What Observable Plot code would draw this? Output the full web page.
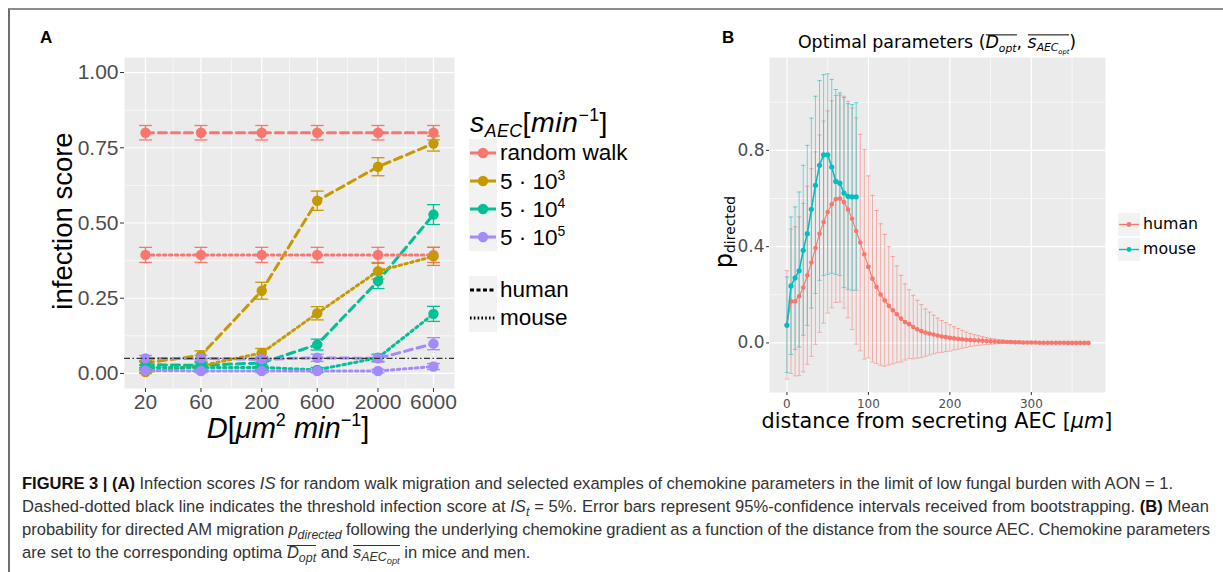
<!DOCTYPE html>
<html><head><meta charset="utf-8">
<script src="https://cdn.jsdelivr.net/npm/d3@7"></script>
<script src="https://cdn.jsdelivr.net/npm/@observablehq/plot@0.6"></script>
<style>
html,body{margin:0;padding:0;background:#fff;overflow:hidden;}
#fig{position:relative;width:1223px;height:572px;overflow:hidden;font-family:"Liberation Sans",Arial,sans-serif;color:#000;}
.abs{position:absolute;white-space:nowrap;line-height:1;}
.frame{position:absolute;left:8px;top:8px;width:1300px;height:700px;border-top:2px solid #8c8c8c;border-left:2px solid #6e6e6e;}
.sub{font-size:0.62em;vertical-align:-0.32em;}
.sup{font-size:0.62em;vertical-align:0.62em;}
.ol{position:relative;display:inline-block;line-height:1;}
.ol::before{content:"";position:absolute;left:0;right:0;top:0.02em;border-top:1px solid currentColor;}
.cap{position:absolute;left:22px;white-space:nowrap;color:#333;line-height:23px;font-family:"Liberation Sans",Arial,sans-serif;}
.cap sub{font-size:0.75em;vertical-align:-0.3em;line-height:0;}
</style></head><body><div id="fig"><div class="frame"></div></div>
<script>
// ---------------- Panel A data ----------------
const D_values = [20, 60, 200, 600, 2000, 6000];
const A_yTicks = [0, 0.25, 0.5, 0.75, 1];
const A_yMinor = [0.125, 0.375, 0.625, 0.875];
const A_xMinor = [34.6, 109.5, 346, 1095, 3464];
const seriesNames = ["random walk", "5·10³", "5·10⁴", "5·10⁵"];
const seriesColors = ["#F8766D", "#C49A00", "#00C094", "#A58AFF"];
const threshold = 0.05;

const rwHuman    = [0.800, 0.800, 0.800, 0.800, 0.800, 0.800];
const rwHumanErr = [0.024, 0.024, 0.024, 0.024, 0.024, 0.024];
const rwMouse    = [0.394, 0.394, 0.394, 0.394, 0.394, 0.394];
const rwMouseErr = [0.025, 0.025, 0.025, 0.025, 0.025, 0.025];
const s3Human    = [0.035, 0.060, 0.275, 0.574, 0.687, 0.764];
const s3HumanErr = [0.008, 0.015, 0.028, 0.032, 0.030, 0.025];
const s3Mouse    = [0.005, 0.025, 0.068, 0.200, 0.340, 0.389];
const s3MouseErr = [0.005, 0.010, 0.015, 0.022, 0.026, 0.030];
const s4Human    = [0.029, 0.027, 0.035, 0.096, 0.307, 0.528];
const s4HumanErr = [0.010, 0.010, 0.012, 0.018, 0.025, 0.033];
const s4Mouse    = [0.020, 0.020, 0.020, 0.012, 0.052, 0.198];
const s4MouseErr = [0.008, 0.008, 0.008, 0.008, 0.012, 0.025];
const s5Human    = [0.050, 0.050, 0.047, 0.052, 0.050, 0.099];
const s5HumanErr = [0.010, 0.010, 0.010, 0.012, 0.012, 0.020];
const s5Mouse    = [0.010, 0.008, 0.008, 0.008, 0.008, 0.023];
const s5MouseErr = [0.006, 0.006, 0.006, 0.006, 0.006, 0.010];

// ---------------- Panel B data ----------------
const B_xTicks = [0, 100, 200, 300];
const B_xMinor = [50, 150, 250, 350];
const B_yTicks = [0, 0.4, 0.8];
const B_yMinor = [0.2, 0.6, 1.0];
const humanDist = [0,5,10,15,20,25,30,35,40,45,50,55,60,65,70,75,80,85,90,95,100,105,110,115,120,125,130,135,140,145,150,155,160,165,170,175,180,185,190,195,200,205,210,215,220,225,230,235,240,245,250,255,260,265,270,275,280,285,290,295,300,305,310,315,320,325,330,335,340,345,350,355,360,365,370];
const humanMean = [0.075,0.173,0.173,0.194,0.230,0.281,0.334,0.394,0.454,0.502,0.544,0.576,0.598,0.600,0.585,0.554,0.516,0.465,0.417,0.368,0.316,0.267,0.232,0.201,0.177,0.154,0.136,0.119,0.101,0.087,0.078,0.066,0.057,0.049,0.043,0.039,0.035,0.031,0.027,0.024,0.021,0.019,0.017,0.015,0.013,0.012,0.011,0.010,0.009,0.008,0.007,0.006,0.005,0.005,0.004,0.004,0.003,0.003,0.002,0.002,0.002,0.002,0.001,0.001,0.001,0.001,0.001,0.001,0.001,0.000,0.000,0.000,0.000,0.000,0.000];
const humanErr  = [0.225,0.300,0.310,0.330,0.350,0.370,0.390,0.400,0.410,0.420,0.420,0.430,0.430,0.430,0.440,0.450,0.460,0.470,0.450,0.435,0.378,0.346,0.318,0.294,0.274,0.246,0.223,0.201,0.180,0.158,0.143,0.132,0.120,0.110,0.098,0.089,0.080,0.072,0.066,0.060,0.055,0.048,0.043,0.037,0.032,0.027,0.023,0.020,0.017,0.014,0.012,0.010,0.008,0.007,0.006,0.005,0.004,0.004,0.003,0.003,0.002,0.002,0.002,0.001,0.001,0.001,0.001,0.001,0.001,0.001,0.000,0.000,0.000,0.000,0.000];
const mouseDist  = [0,5,10,15,20,25,30,35,40,45,50,55,60,65,70,75,80,85];
const mouseMean  = [0.073,0.237,0.270,0.300,0.385,0.454,0.555,0.655,0.738,0.782,0.782,0.731,0.671,0.664,0.623,0.609,0.607,0.607];
const mouseUpper = [0.274,0.523,0.565,0.627,0.738,0.821,0.934,1.025,1.090,1.115,1.118,1.095,1.053,1.039,1.019,0.994,0.990,0.998];
const mouseLower = [-0.123,-0.048,-0.027,-0.017,0.032,0.073,0.145,0.205,0.260,0.280,0.285,0.290,0.285,0.280,0.230,0.223,0.219,0.219];

const humanColor = "#F8766D", mouseColor = "#00BFC4";

// ---------------- build tables ----------------
const A_series = [
  [0, "human", rwHuman, rwHumanErr], [0, "mouse", rwMouse, rwMouseErr],
  [1, "human", s3Human, s3HumanErr], [1, "mouse", s3Mouse, s3MouseErr],
  [2, "human", s4Human, s4HumanErr], [2, "mouse", s4Mouse, s4MouseErr],
  [3, "human", s5Human, s5HumanErr], [3, "mouse", s5Mouse, s5MouseErr]
];
const A_rows = A_series.flatMap(([k, sp, v, e]) => D_values.map((D, i) => ({
  D, s: seriesNames[k], sp, v: v[i], lo: v[i] - e[i], hi: v[i] + e[i]
})));
const A_human = A_rows.filter(d => d.sp === "human");
const A_mouse = A_rows.filter(d => d.sp === "mouse");

const B_human = humanDist.map((d, i) => ({d, v: humanMean[i], lo: humanMean[i] - humanErr[i], hi: humanMean[i] + humanErr[i]}));
const B_mouse = mouseDist.map((d, i) => ({d, v: mouseMean[i], lo: mouseLower[i], hi: mouseUpper[i]}));

// horizontal cap symbol for error bars
const capSymbol = {draw(ctx, size) { const w = Math.sqrt(size / Math.PI); ctx.moveTo(-w, 0); ctx.lineTo(w, 0); }};

const fig = document.getElementById("fig");
function place(el, left, top) { el.style.position = "absolute"; el.style.left = left + "px"; el.style.top = top + "px"; fig.appendChild(el); }
function addHTML(html, css) { const d = document.createElement("div"); d.className = "abs"; d.innerHTML = html; Object.assign(d.style, css); fig.appendChild(d); return d; }

// ---------------- Panel A plot ----------------
const plotA = Plot.plot({
  width: 470, height: 450,
  marginLeft: 124, marginRight: 16, marginTop: 57, marginBottom: 62,
  style: {fontFamily: "Liberation Sans, Arial, sans-serif", color: "#4D4D4D", background: "transparent", overflow: "visible"},
  x: {type: "log", domain: [13.2, 9100]},
  y: {domain: [-0.05, 1.05]},
  color: {domain: seriesNames, range: seriesColors},
  marks: [
    Plot.frame({fill: "#EBEBEB", stroke: null}),
    Plot.gridY(A_yMinor, {stroke: "#fff", strokeOpacity: 1, strokeWidth: 0.6}),
    Plot.gridX(A_xMinor, {stroke: "#fff", strokeOpacity: 1, strokeWidth: 0.6}),
    Plot.gridY(A_yTicks, {stroke: "#fff", strokeOpacity: 1, strokeWidth: 1.2}),
    Plot.gridX(D_values, {stroke: "#fff", strokeOpacity: 1, strokeWidth: 1.2}),
    Plot.axisY(A_yTicks, {tickFormat: d3.format(".2f"), tickSize: 4, tickPadding: 2, fontSize: 21, label: null, stroke: "#333", fill: "#4D4D4D"}),
    Plot.axisX(D_values, {tickFormat: () => "", tickSize: 4, tickPadding: 3, fontSize: 21, label: null, stroke: "#333", fill: "#4D4D4D"}),
    Plot.text(D_values, {x: d => d, text: d => String(d), frameAnchor: "bottom", lineAnchor: "top", dy: 6, fontSize: 21, fill: "#4D4D4D"}),
    Plot.line(A_human, {x: "D", y: "v", z: "s", stroke: "s", strokeWidth: 3, strokeDasharray: "8,5"}),
    Plot.line(A_mouse, {x: "D", y: "v", z: "s", stroke: "s", strokeWidth: 3, strokeDasharray: "2.5,3.5"}),
    Plot.ruleX(A_rows, {x: "D", y1: "lo", y2: "hi", stroke: "s", strokeWidth: 1.3}),
    Plot.dot(A_rows, {x: "D", y: "lo", symbol: capSymbol, r: 6.5, stroke: "s", fill: "none", strokeWidth: 1.3}),
    Plot.dot(A_rows, {x: "D", y: "hi", symbol: capSymbol, r: 6.5, stroke: "s", fill: "none", strokeWidth: 1.3}),
    Plot.dot(A_rows, {x: "D", y: "v", fill: "s", r: 5.2, stroke: null}),
    Plot.ruleY([threshold], {stroke: "#333", strokeWidth: 1.2, strokeDasharray: "6,2.5,1.5,2.5"})
  ]
});
place(plotA, 0, 0);

// ---------------- Panel B plot ----------------
const plotB = Plot.plot({
  width: 400, height: 440,
  marginLeft: 49, marginRight: 15, marginTop: 57, marginBottom: 48,
  style: {fontFamily: "DejaVu Sans, sans-serif", color: "#4D4D4D", background: "transparent", overflow: "visible"},
  x: {domain: [-21.4, 391]},
  y: {domain: [-0.206, 1.186]},
  marks: [
    Plot.frame({fill: "#EBEBEB", stroke: null}),
    Plot.gridY(B_yMinor, {stroke: "#fff", strokeOpacity: 1, strokeWidth: 0.6}),
    Plot.gridX(B_xMinor, {stroke: "#fff", strokeOpacity: 1, strokeWidth: 0.6}),
    Plot.gridY(B_yTicks, {stroke: "#fff", strokeOpacity: 1, strokeWidth: 1.2}),
    Plot.gridX(B_xTicks, {stroke: "#fff", strokeOpacity: 1, strokeWidth: 1.2}),
    Plot.axisY(B_yTicks, {tickFormat: d3.format(".1f"), tickSize: 3, tickPadding: 2, fontSize: 17, label: null, stroke: "#333", fill: "#4D4D4D"}),
    Plot.axisX(B_xTicks, {tickFormat: d => String(d), tickSize: 3, tickPadding: 4, fontSize: 12, label: null, stroke: "#333", fill: "#4D4D4D"}),
    Plot.ruleX(B_human, {x: "d", y1: "lo", y2: "hi", stroke: humanColor, strokeOpacity: 0.6, strokeWidth: 0.9}),
    Plot.dot(B_human, {x: "d", y: "lo", symbol: capSymbol, r: 2.2, stroke: humanColor, strokeOpacity: 0.6, fill: "none", strokeWidth: 0.9}),
    Plot.dot(B_human, {x: "d", y: "hi", symbol: capSymbol, r: 2.2, stroke: humanColor, strokeOpacity: 0.6, fill: "none", strokeWidth: 0.9}),
    Plot.ruleX(B_mouse, {x: "d", y1: "lo", y2: "hi", stroke: mouseColor, strokeOpacity: 0.6, strokeWidth: 0.9}),
    Plot.dot(B_mouse, {x: "d", y: "lo", symbol: capSymbol, r: 2.2, stroke: mouseColor, strokeOpacity: 0.6, fill: "none", strokeWidth: 0.9}),
    Plot.dot(B_mouse, {x: "d", y: "hi", symbol: capSymbol, r: 2.2, stroke: mouseColor, strokeOpacity: 0.6, fill: "none", strokeWidth: 0.9}),
    Plot.line(B_human, {x: "d", y: "v", stroke: humanColor, strokeWidth: 1.1}),
    Plot.dot(B_human, {x: "d", y: "v", fill: humanColor, r: 2.3, stroke: null}),
    Plot.line(B_mouse, {x: "d", y: "v", stroke: mouseColor, strokeWidth: 1.6}),
    Plot.dot(B_mouse, {x: "d", y: "v", fill: mouseColor, r: 2.6, stroke: null})
  ]
});
place(plotB, 720, 0);

// ---------------- Panel labels & axis titles ----------------
addHTML("A", {left: "40px", top: "29px", fontSize: "17px", fontWeight: "bold"});
addHTML("B", {left: "722px", top: "29px", fontSize: "17px", fontWeight: "bold"});

addHTML("infection score", {left: "63px", top: "221px", fontSize: "27.5px", transform: "translate(-50%,-50%) rotate(-90deg)"});
addHTML('<i>D</i>[<i>μm</i><span class="sup">2</span> <i>min</i><span class="sup">−1</span>]',
  {left: "288px", top: "427px", fontSize: "29px", transform: "translate(-50%,-50%)"});

// Legend A
addHTML('<i>s</i><span class="sub"><i>AEC</i></span>[<i>min</i><span class="sup">−1</span>]',
  {left: "470px", top: "124px", fontSize: "28.5px", letterSpacing: "0.5px", transform: "translateY(-50%)"});
function keyA(color, dash, dot) {
  return `<svg width="28" height="28" style="display:block"><rect width="28" height="28" fill="#F2F2F2"/>` +
    `<line x1="1" x2="27" y1="14" y2="14" stroke="${color}" stroke-width="3" ${dash ? `stroke-dasharray="${dash}"` : ""}/>` +
    (dot ? `<circle cx="14" cy="14" r="5.2" fill="${color}"/>` : "") + `</svg>`;
}
const legendA = [
  ["random walk", seriesColors[0], 153],
  ["5 · 10<span class='sup'>3</span>", seriesColors[1], 181],
  ["5 · 10<span class='sup'>4</span>", seriesColors[2], 209],
  ["5 · 10<span class='sup'>5</span>", seriesColors[3], 237]
];
legendA.forEach(([t, c, y]) => {
  addHTML(keyA(c, null, true), {left: "469px", top: (y - 14) + "px"});
  addHTML(t, {left: "500px", top: y + "px", fontSize: "22.5px", transform: "translateY(-50%)"});
});
[["human", "4,2.5", 290], ["mouse", "1.6,2.2", 318]].forEach(([t, dash, y]) => {
  addHTML(keyA("#000", dash, false), {left: "469px", top: (y - 14) + "px"});
  addHTML(t, {left: "500px", top: y + "px", fontSize: "22.5px", transform: "translateY(-50%)"});
});

// Panel B titles
addHTML('Optimal parameters (<span class="ol"><i>D</i><span class="sub"><i>opt</i></span></span>, <span class="ol"><i>s</i><span class="sub"><i>AEC</i><span class="sub"><i>opt</i></span></span></span>)',
  {left: "937px", top: "45px", fontSize: "17.4px", fontFamily: "DejaVu Sans, sans-serif", transform: "translate(-50%,-50%)"});
addHTML('p<span style="font-size:0.58em;vertical-align:-0.25em">directed</span>',
  {left: "725px", top: "232px", fontSize: "24px", fontFamily: "DejaVu Sans, sans-serif", transform: "translate(-50%,-50%) rotate(-90deg)"});
addHTML('distance from secreting AEC [<i>μm</i>]',
  {left: "937px", top: "421px", fontSize: "20.8px", fontFamily: "DejaVu Sans, sans-serif", transform: "translate(-50%,-50%)"});

// Legend B
function keyB(color) {
  return `<svg width="22" height="23" style="display:block"><rect width="22" height="23" fill="#F2F2F2"/>` +
    `<line x1="1" x2="21" y1="11.5" y2="11.5" stroke="${color}" stroke-width="1.4"/><circle cx="11" cy="11.5" r="2.4" fill="${color}"/></svg>`;
}
[["human", humanColor, 224], ["mouse", mouseColor, 249]].forEach(([t, c, y]) => {
  addHTML(keyB(c), {left: "1118px", top: (y - 11.5) + "px"});
  addHTML(t, {left: "1143px", top: y + "px", fontSize: "15.8px", fontFamily: "DejaVu Sans, sans-serif", transform: "translateY(-50%)"});
});

// ---------------- Caption ----------------
const captionLines = [
  '<b style="color:#111">FIGURE 3 | (A)</b> Infection scores <i>IS</i> for random walk migration and selected examples of chemokine parameters in the limit of low fungal burden with AON = 1.',
  'Dashed-dotted black line indicates the threshold infection score at <i>IS<sub>t</sub></i> = 5%. Error bars represent 95%-confidence intervals received from bootstrapping. <b style="color:#111">(B)</b> Mean',
  'probability for directed AM migration <i>p<sub>directed</sub></i> following the underlying chemokine gradient as a function of the distance from the source AEC. Chemokine parameters',
  'are set to the corresponding optima <span class="ol"><i>D<sub>opt</sub></i></span> and <span class="ol"><i>s<sub>AEC<sub>opt</sub></sub></i></span> in mice and men.'
];
const captionWidths = [1151, 1187, 1188, null];
const capEls = captionLines.map((html, i) => {
  const d = document.createElement("div");
  d.className = "cap"; d.innerHTML = html;
  d.style.top = (471.5 + i * 23) + "px"; d.style.fontSize = "15px";
  fig.appendChild(d); return d;
});
const w2 = capEls[1].getBoundingClientRect().width;
const fs = 15 * 1184 / w2;
capEls.forEach((d, i) => {
  d.style.fontSize = fs.toFixed(2) + "px";
  const target = captionWidths[i];
  if (target) {
    const w = d.getBoundingClientRect().width;
    const spaces = (d.textContent.match(/ /g) || []).length;
    if (spaces) d.style.wordSpacing = ((target - w) / spaces).toFixed(3) + "px";
  }
});
</script></body></html>
